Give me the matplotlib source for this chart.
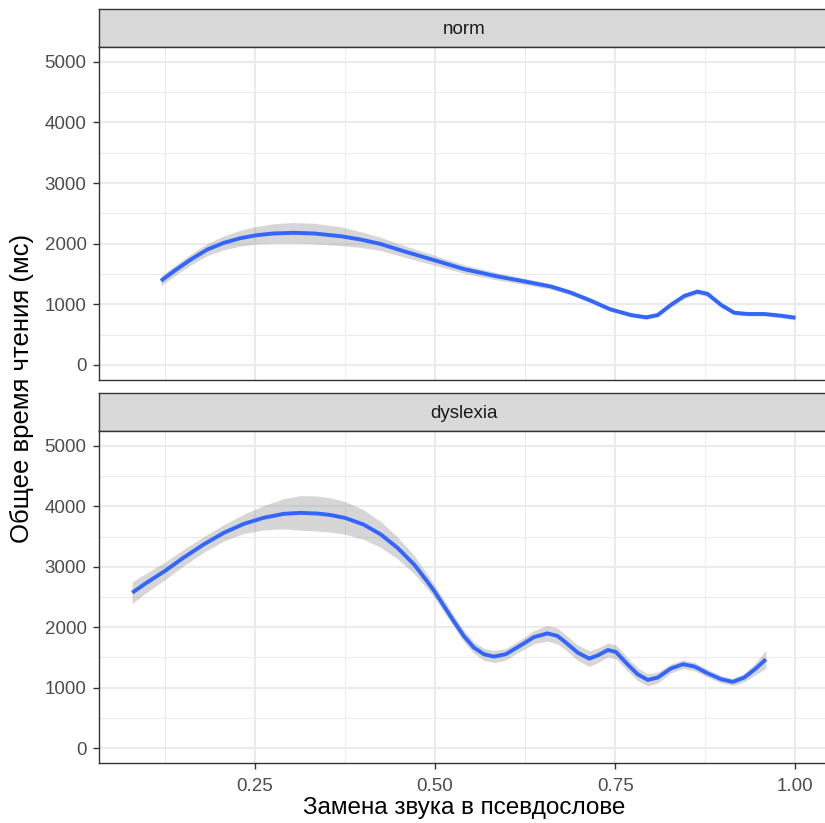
import numpy as np
import matplotlib.pyplot as plt

plt.rcParams['font.family'] = ['Liberation Sans', 'DejaVu Sans']

# smoothed reading time, "norm" group
norm_x = [0.120, 0.1375, 0.161, 0.184, 0.207, 0.230, 0.253, 0.276, 0.304, 0.332,
          0.369, 0.397, 0.424, 0.457, 0.500, 0.540, 0.587, 0.625, 0.661, 0.688,
          0.716, 0.743, 0.772, 0.793, 0.809, 0.827, 0.846, 0.864, 0.878, 0.897,
          0.915, 0.934, 0.957, 0.980, 1.000]
norm_y = [1387, 1542, 1736, 1902, 2013, 2090, 2140, 2168, 2179, 2168,
          2123, 2068, 1997, 1874, 1724, 1581, 1458, 1375, 1292, 1193,
          1060, 917, 822, 784, 822, 988, 1138, 1209, 1171, 988,
          860, 839, 839, 811, 778]
norm_se = [80, 85, 90, 100, 115, 130, 145, 160, 170, 168,
           155, 130, 110, 95, 82, 70, 60, 52, 45, 40,
           38, 35, 35, 35, 35, 38, 42, 45, 42, 38,
           35, 33, 33, 35, 38]

# smoothed reading time, "dyslexia" group
dys_x = [0.080, 0.100, 0.125, 0.151, 0.179, 0.207, 0.235, 0.262, 0.290, 0.313,
         0.337, 0.354, 0.375, 0.401, 0.425, 0.448, 0.471, 0.489, 0.500, 0.5125,
         0.526, 0.540, 0.554, 0.568, 0.582, 0.598, 0.619, 0.6375, 0.656, 0.670,
         0.679, 0.698, 0.714, 0.726, 0.740, 0.751, 0.767, 0.781, 0.795, 0.809,
         0.827, 0.844, 0.860, 0.878, 0.897, 0.913, 0.929, 0.945, 0.959]
dys_y = [2571, 2736, 2927, 3148, 3368, 3561, 3710, 3809, 3875, 3891,
         3880, 3858, 3809, 3698, 3533, 3313, 3038, 2762, 2581, 2350,
         2102, 1855, 1663, 1553, 1515, 1553, 1701, 1838, 1899, 1855,
         1772, 1580, 1481, 1536, 1624, 1591, 1388, 1223, 1129, 1168,
         1317, 1388, 1350, 1239, 1140, 1096, 1168, 1317, 1470]
dys_se = [180, 160, 145, 135, 130, 135, 160, 200, 250, 285,
          290, 285, 270, 245, 215, 180, 150, 120, 105, 100,
          95, 95, 95, 100, 100, 95, 95, 110, 130, 130,
          125, 125, 130, 120, 115, 115, 110, 105, 100, 90,
          75, 70, 70, 65, 60, 60, 70, 100, 150]

x_ticks = [0.25, 0.50, 0.75, 1.00]
x_labels = ['0.25', '0.50', '0.75', '1.00']
y_ticks = [0, 1000, 2000, 3000, 4000, 5000]

W, H = 825, 823
fig = plt.figure(figsize=(W / 100, H / 100), dpi=100)


def px_box(left, top, right, bottom):
    return [left / W, 1 - bottom / H, (right - left) / W, (bottom - top) / H]


def strip(top, bottom, label):
    ax = fig.add_axes(px_box(99, top, 828.6, bottom))
    ax.set_facecolor('#D9D9D9')
    ax.set_xticks([])
    ax.set_yticks([])
    for s in ax.spines.values():
        s.set_color('#333333')
        s.set_linewidth(1.0)
    ax.text(0.5, 0.45, label, ha='center', va='center', fontsize=13.5,
            color='#1A1A1A', transform=ax.transAxes)


def panel(top, bottom, x, y, se, show_x):
    ax = fig.add_axes(px_box(99, top, 828.6, bottom))
    ax.set_xlim(0.034, 1.046)
    ax.set_ylim(-250, 5250)
    ax.set_xticks(x_ticks)
    ax.set_xticks([0.125, 0.375, 0.625, 0.875], minor=True)
    ax.set_yticks(y_ticks)
    ax.set_yticks([500, 1500, 2500, 3500, 4500], minor=True)
    ax.grid(which='major', color='#EBEBEB', linewidth=1.5)
    ax.grid(which='minor', color='#EBEBEB', linewidth=0.75)
    ax.set_axisbelow(True)
    for s in ax.spines.values():
        s.set_color('#333333')
        s.set_linewidth(1.0)
    ax.tick_params(which='minor', length=0)
    ax.tick_params(which='major', length=4, width=1.0, color='#333333',
                   labelsize=13.5, labelcolor='#4D4D4D', pad=5)
    if show_x:
        ax.set_xticklabels(x_labels)
        ax.tick_params(axis='x', pad=6.5)
    else:
        ax.tick_params(axis='x', which='major', length=0, labelbottom=False)
    y = np.array(y)
    se = np.array(se)
    ax.fill_between(x, y - se, y + se, color='#999999', alpha=0.4, linewidth=0)
    ax.plot(x, y, color='#3366FF', linewidth=2.8, solid_capstyle='butt')
    return ax


strip(9, 46.7, 'norm')
panel(46.7, 380, norm_x, norm_y, norm_se, False)
strip(393.3, 430.7, 'dyslexia')
panel(430.7, 763.3, dys_x, dys_y, dys_se, True)

fig.text(463.8 / W, 1 - 808 / H, 'Замена звука в псевдослове',
         ha='center', va='center', fontsize=17.5, color='black')
fig.text(22 / W, 1 - 388 / H, 'Общее время чтения (мс)',
         ha='center', va='center', rotation=90, fontsize=18.5, color='black')

fig.savefig('out.png', dpi=100, facecolor='white')
